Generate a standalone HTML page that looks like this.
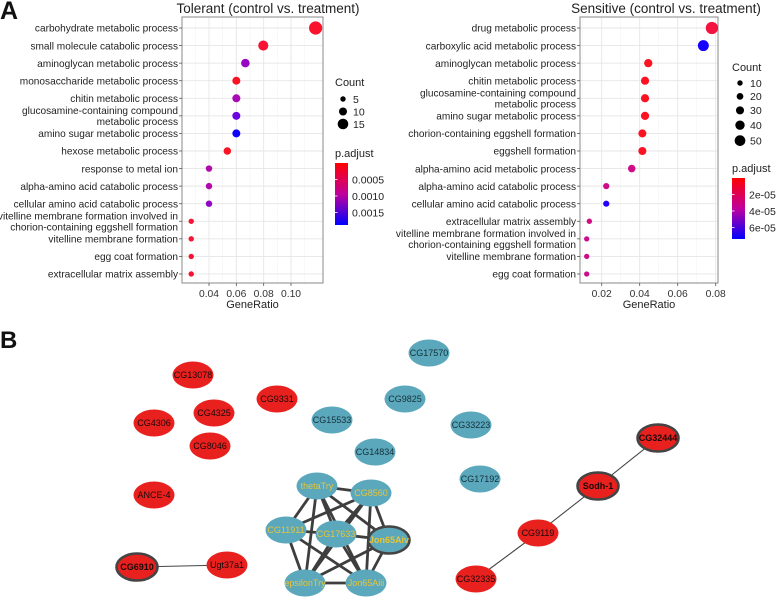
<!DOCTYPE html>
<html><head><meta charset="utf-8"><style>
html,body{margin:0;padding:0;background:#fff;}
svg{display:block;font-family:"Liberation Sans",sans-serif;}
</style></head><body>
<svg id="fig" width="777" height="598" viewBox="0 0 777 598" xmlns="http://www.w3.org/2000/svg">
<text x="0" y="19" font-size="25" font-weight="bold" fill="#111">A</text>
<text x="0" y="348" font-size="24" font-weight="bold" fill="#111">B</text>
<defs>
<linearGradient id="gradL" x1="0" y1="0" x2="0" y2="1"><stop offset="0" stop-color="#ff0000"/><stop offset="0.5" stop-color="#c0009c"/><stop offset="1" stop-color="#0000ff"/></linearGradient>
</defs>
</svg>
<script>
// ---------- Tolerant data ----------
const tolTerms = ["carbohydrate metabolic process","small molecule catabolic process","aminoglycan metabolic process","monosaccharide metabolic process","chitin metabolic process","glucosamine-containing compound|metabolic process","amino sugar metabolic process","hexose metabolic process","response to metal ion","alpha-amino acid catabolic process","cellular amino acid catabolic process","vitelline membrane formation involved in|chorion-containing eggshell formation","vitelline membrane formation","egg coat formation","extracellular matrix assembly"];
const tolRatio = [0.118,0.0797,0.0666,0.060,0.060,0.060,0.060,0.0534,0.040,0.040,0.040,0.027,0.027,0.027,0.027];
const tolCount = [20,14,11,10,10,10,10,9,7,7,7,5,5,5,5];
const tolPadj = [0.00008,0.00010,0.00115,0.00005,0.0010,0.0015,0.00187,0.00005,0.0009,0.0009,0.0012,0.0001,0.0001,0.0001,0.0001];
const tolTicks = [0.04,0.06,0.08,0.10];
const tolTickLabels = ["0.04","0.06","0.08","0.10"];
const tolMinor = [0.03,0.05,0.07,0.09,0.11];
const tolSizeBreaks = [5,10,15];
const tolColorBreaks = [0.0005,0.0010,0.0015];
const tolColorLabels = ["0.0005","0.0010","0.0015"];
// ---------- Sensitive data ----------
const senTerms = ["drug metabolic process","carboxylic acid metabolic process","aminoglycan metabolic process","chitin metabolic process","glucosamine-containing compound|metabolic process","amino sugar metabolic process","chorion-containing eggshell formation","eggshell formation","alpha-amino acid metabolic process","alpha-amino acid catabolic process","cellular amino acid catabolic process","extracellular matrix assembly","vitelline membrane formation involved in|chorion-containing eggshell formation","vitelline membrane formation","egg coat formation"];
const senRatio = [0.078,0.0735,0.0445,0.0428,0.0428,0.0428,0.0414,0.0414,0.0358,0.0224,0.0224,0.0135,0.0121,0.0121,0.0121];
const senCount = [62,52,32,31,31,31,30,30,26,16,16,10,9,9,9];
const senPadj = [0.6e-5,7.3e-5,0.2e-5,0.2e-5,0.2e-5,0.2e-5,0.2e-5,0.2e-5,2.4e-5,2.4e-5,7.2e-5,2.2e-5,2.5e-5,2.5e-5,2.5e-5];
const senTicks = [0.02,0.04,0.06,0.08];
const senTickLabels = ["0.02","0.04","0.06","0.08"];
const senMinor = [0.01,0.03,0.05,0.07];
const senSizeBreaks = [10,20,30,40,50];
const senColorBreaks = [2e-5,4e-5,6e-5];
const senColorLabels = ["2e-05","4e-05","6e-05"];
// ---------- Network data ----------
const nodeNames = ["CG17570","CG13078","CG9331","CG4325","CG4306","CG8046","CG15533","CG9825","CG33223","CG14834","CG17192","ANCE-4","thetaTry","CG8560","CG11911","CG17633","Jon65Aiv","epsilonTry","Jon65Aiii","CG6910","Ugt37a1","CG32444","Sodh-1","CG9119","CG32335"];
const nodeX = [429,193,277,214,154,210,332,405,471,375,480,154,317,371,286,336,389,305,366,137,227,658,598,538,476];
const nodeY = [353,375,399,413,423,446,420,399,425,452,479,495,486,493,530,534,540,583,583,567,565,438,486,533,579];
const nodeGroup = ["b","r","r","r","r","r","b","b","b","b","b","r","c","c","c","c","c","c","c","r","r","r","r","r","r"];
const nodeBorder = [0,0,0,0,0,0,0,0,0,0,0,0,0,0,0,0,1,0,0,1,0,1,1,0,0];
const clusterEdges = [["thetaTry","CG8560"],["thetaTry","CG11911"],["thetaTry","CG17633"],["thetaTry","Jon65Aiv"],["thetaTry","epsilonTry"],["thetaTry","Jon65Aiii"],["CG8560","CG11911"],["CG8560","CG17633"],["CG8560","Jon65Aiv"],["CG8560","epsilonTry"],["CG8560","Jon65Aiii"],["CG11911","CG17633"],["CG11911","epsilonTry"],["CG11911","Jon65Aiii"],["CG17633","Jon65Aiv"],["CG17633","epsilonTry"],["CG17633","Jon65Aiii"],["Jon65Aiv","epsilonTry"],["Jon65Aiv","Jon65Aiii"],["epsilonTry","Jon65Aiii"]];
const thinEdges = [["CG6910","Ugt37a1"],["CG32444","Sodh-1"],["Sodh-1","CG9119"],["CG9119","CG32335"]];

const NS="http://www.w3.org/2000/svg";
const svg=document.getElementById('fig');
function mk(tag,attrs,parent){const e=document.createElementNS(NS,tag);for(const k in attrs)e.setAttribute(k,attrs[k]);(parent||svg).appendChild(e);return e;}
function padjColor(t){t=Math.max(0,Math.min(1,t));const r=Math.round(255*Math.pow(1-t,0.55));const b=Math.round(255*Math.pow(t,0.55));const g=Math.round(20*(1-t));return `rgb(${r},${g},${b})`;}

function dotplot(cfg){
  const g=mk('g',{});
  
  
  const xs=v=>cfg.xa+(v-cfg.va)*cfg.k;
  const ys=i=>cfg.rowTop+i*cfg.step;
  const bg=mk('rect',{x:cfg.x0,y:cfg.y0,width:cfg.x1-cfg.x0,height:cfg.y1-cfg.y0,fill:'#fff'},g);
  
  
  cfg.minor.forEach(v=>{const l=mk('line',{x1:xs(v),x2:xs(v),y1:cfg.y0,y2:cfg.y1,stroke:'#f3f3f3','stroke-width':0.6},g);
    
    });
  cfg.ticks.forEach(v=>{const l=mk('line',{x1:xs(v),x2:xs(v),y1:cfg.y0,y2:cfg.y1,stroke:'#e6e6e6','stroke-width':0.9},g);
    
    });
  cfg.terms.forEach((t,i)=>{const l=mk('line',{x1:cfg.x0,x2:cfg.x1,y1:ys(i),y2:ys(i),stroke:'#e6e6e6','stroke-width':0.9},g);
    
    });
  const br=mk('rect',{x:cfg.x0,y:cfg.y0,width:cfg.x1-cfg.x0,height:cfg.y1-cfg.y0,fill:'none',stroke:'#8a8a8a','stroke-width':1},g);
  
  
  cfg.terms.forEach((t,i)=>{
    const y=ys(i);
    const tk=mk('line',{x1:cfg.x0-3,x2:cfg.x0,y1:y,y2:y,stroke:'#555','stroke-width':0.8},g);
    
    
    const parts=t.split('|');
    const tx=mk('text',{x:cfg.x0-4,'text-anchor':'end','font-size':10.1,fill:'#222'},g);
    
    
    parts.forEach((p,j)=>{const ts=mk('tspan',{x:cfg.x0-4,y:y+3.7+(j-(parts.length-1)/2)*11.3},tx);ts.textContent=p;});
  });
  cfg.ticks.forEach((v,i)=>{
    const tk=mk('line',{x1:xs(v),x2:xs(v),y1:cfg.y1,y2:cfg.y1+3,stroke:'#555','stroke-width':0.8},g);
    
    
    const tx=mk('text',{x:xs(v),y:cfg.y1+14,'text-anchor':'middle','font-size':10.3,fill:'#333'},g);
    
    
    tx.textContent=cfg.tickLabels[i];
  });
  const xt=mk('text',{x:(cfg.x0+cfg.x1)/2,y:cfg.y1+25,'text-anchor':'middle','font-size':11,fill:'#222'},g);
  
  
  xt.textContent='GeneRatio';
  const tt=mk('text',{x:cfg.titleX,y:13,'text-anchor':'middle','font-size':13.5,fill:'#222'},g);
  
  
  tt.textContent=cfg.title;
  cfg.terms.forEach((t,i)=>{
    const c=mk('circle',{cx:xs(cfg.ratio[i]),cy:ys(i),r:cfg.rad(cfg.count[i]),fill:padjColor(cfg.padj[i]/cfg.pmax)},g);
    
    
  });
  const lt=mk('text',{x:cfg.legX,y:cfg.countTitleY,'font-size':11,fill:'#222'},g);
  
  
  lt.textContent='Count';
  cfg.sizeBreaks.forEach((s,i)=>{
    const y=cfg.countY0+i*cfg.countStep+(cfg.countGrow?i*i*0.35:0);
    const c=mk('circle',{cx:cfg.legX+8,cy:y,r:cfg.rad(s),fill:'#000'},g);
    
    
    const tx=mk('text',{x:cfg.legX+18,y:y+3.8,'font-size':10.5,fill:'#222'},g);
    
    
    tx.textContent=s;
  });
  const pt=mk('text',{x:cfg.legX,y:cfg.barY0-6,'font-size':11,fill:'#222'},g);
  
  
  pt.textContent='p.adjust';
  const cb=mk('rect',{x:cfg.legX,y:cfg.barY0,width:13,height:cfg.barY1-cfg.barY0,fill:'url(#gradL)'},g);
  
  
  cfg.colorBreaks.forEach((v,i)=>{
    const y=cfg.barY0+(v/cfg.pmax)*(cfg.barY1-cfg.barY0);
    const l=mk('line',{x1:cfg.legX,x2:cfg.legX+2.5,y1:y,y2:y,stroke:'#fff','stroke-width':0.8},g);
    
    
    const tx=mk('text',{x:cfg.legX+17,y:y+3.8,'font-size':10.5,fill:'#222'},g);
    
    
    tx.textContent=cfg.colorLabels[i];
  });
}

dotplot({name:'tolerant-dotplot',terms:tolTerms,ratio:tolRatio,count:tolCount,padj:tolPadj,ticks:tolTicks,tickLabels:tolTickLabels,minor:tolMinor,
  x0:182,x1:323,y0:17,y1:283,rowTop:28,step:17.57,xa:209,va:0.04,k:1367,title:'Tolerant (control vs. treatment)',titleX:268,
  rad:c=>1.4+0.26*c,pmax:0.00188,legX:335,countTitleY:86,countY0:99,countStep:12.5,countGrow:false,sizeBreaks:tolSizeBreaks,
  barY0:163,barY1:225,colorBreaks:tolColorBreaks,colorLabels:tolColorLabels});
dotplot({name:'sensitive-dotplot',terms:senTerms,ratio:senRatio,count:senCount,padj:senPadj,ticks:senTicks,tickLabels:senTickLabels,minor:senMinor,
  x0:580,x1:718,y0:17,y1:283,rowTop:28,step:17.57,xa:601.7,va:0.02,k:1900,title:'Sensitive (control vs. treatment)',titleX:666,
  rad:c=>2.05+0.066*c,pmax:7.4e-5,legX:732,countTitleY:71,countY0:83,countStep:13,countGrow:true,sizeBreaks:senSizeBreaks,
  barY0:178,barY1:239,colorBreaks:senColorBreaks,colorLabels:senColorLabels});

const net=mk('g',{});


const idx=n=>nodeNames.indexOf(n);
clusterEdges.forEach(e=>{const a=idx(e[0]),b=idx(e[1]);
  const l=mk('line',{x1:nodeX[a],y1:nodeY[a],x2:nodeX[b],y2:nodeY[b],stroke:'#3e3e3e','stroke-width':2.8},net);
  
  });
thinEdges.forEach(e=>{const a=idx(e[0]),b=idx(e[1]);
  const l=mk('line',{x1:nodeX[a],y1:nodeY[a],x2:nodeX[b],y2:nodeY[b],stroke:'#444','stroke-width':1.1},net);
  
  });
nodeNames.forEach((n,i)=>{
  const g=mk('g',{},net);
  
  
  const fill=nodeGroup[i]==='r'?'#e8211f':'#5ba8bc';
  const e=mk('ellipse',{cx:nodeX[i],cy:nodeY[i],rx:20.5,ry:13.5,fill:fill},g);
  if(nodeBorder[i]){e.setAttribute('stroke','#444');e.setAttribute('stroke-width','2.6');}
  
  
  const col=nodeGroup[i]==='c'?'#e8c437':(nodeGroup[i]==='r'?'#1a0a0a':'#15303a');
  const t=mk('text',{x:nodeX[i],y:nodeY[i]+3.2,'text-anchor':'middle','font-size':9,fill:col,'font-family':'"Liberation Sans Narrow","Liberation Sans",sans-serif','font-weight':nodeBorder[i]?'bold':'normal'},g);
  
  
  t.textContent=n;
});
</script>
</body></html>
